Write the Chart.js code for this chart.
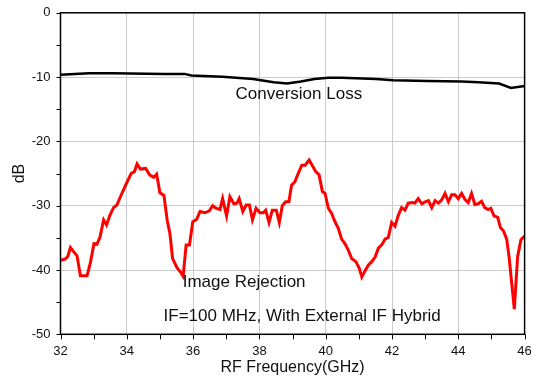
<!DOCTYPE html>
<html>
<head>
<meta charset="utf-8">
<script src="https://cdn.jsdelivr.net/npm/chart.js@4/dist/chart.umd.min.js"></script>
<style>
  body { margin: 0; background: #fff; }
</style>
</head>
<body>
<canvas id="myChart" width="536" height="379"></canvas>
<script>
// RF frequency (GHz) and dB values
var irFreq = [32.00, 32.14, 32.22, 32.30, 32.39, 32.50, 32.60, 32.80, 32.90, 33.01, 33.10, 33.19, 33.30, 33.39, 33.49, 33.60, 33.70, 33.85, 34.00, 34.13,
  34.23, 34.31, 34.41, 34.57, 34.69, 34.81, 34.90, 35.00, 35.12, 35.22, 35.30, 35.38, 35.51, 35.63, 35.70, 35.79, 35.89, 35.99, 36.11, 36.21,
  36.36, 36.49, 36.59, 36.69, 36.81, 36.89, 37.01, 37.11, 37.23, 37.32, 37.39, 37.50, 37.60, 37.70, 37.79, 37.90, 38.02, 38.12, 38.19, 38.29,
  38.39, 38.51, 38.60, 38.69, 38.79, 38.89, 38.97, 39.07, 39.17, 39.28, 39.38, 39.50, 39.60, 39.70, 39.80, 39.90, 39.98, 40.08, 40.18, 40.28,
  40.38, 40.48, 40.58, 40.68, 40.78, 40.91, 41.01, 41.09, 41.19, 41.29, 41.39, 41.49, 41.59, 41.69, 41.79, 41.89, 41.99, 42.09, 42.19, 42.29,
  42.39, 42.49, 42.62, 42.69, 42.79, 42.90, 43.00, 43.10, 43.20, 43.30, 43.40, 43.50, 43.60, 43.70, 43.80, 43.90, 44.00, 44.10, 44.20, 44.30,
  44.40, 44.50, 44.60, 44.70, 44.80, 44.90, 44.98, 45.08, 45.19, 45.27, 45.36, 45.46, 45.53, 45.69, 45.79, 45.89, 46.00];
var irDb = [-38.5, -38.3, -37.9, -36.5, -37.1, -37.8, -40.9, -40.9, -38.9, -35.9, -36.0, -34.9, -32.2, -33.0, -31.5, -30.3, -29.9, -28.1, -26.4, -25.0,
  -24.7, -23.5, -24.3, -24.2, -25.2, -25.6, -25.1, -28.0, -28.4, -32.3, -34.3, -38.2, -39.6, -40.4, -41.0, -36.1, -36.1, -32.5, -32.1, -30.9,
  -31.1, -30.8, -30.0, -30.4, -30.6, -28.9, -31.6, -28.6, -29.7, -29.6, -28.9, -30.9, -29.9, -29.9, -32.2, -30.4, -31.1, -31.1, -30.7, -32.6,
  -30.7, -30.7, -32.6, -30.0, -29.4, -29.4, -26.8, -26.3, -25.0, -23.7, -23.7, -22.9, -23.8, -24.7, -25.2, -27.8, -28.1, -30.4, -31.2, -32.5,
  -33.5, -35.2, -35.9, -36.9, -38.2, -38.7, -39.7, -41.1, -40.1, -39.2, -38.7, -38.0, -36.6, -36.1, -35.2, -34.9, -32.6, -33.2, -31.5, -30.3,
  -30.7, -29.6, -29.5, -29.6, -28.9, -29.7, -29.4, -29.2, -30.3, -29.2, -29.6, -29.1, -28.1, -29.4, -28.3, -28.3, -28.9, -28.1, -29.0, -29.5,
  -28.1, -29.8, -29.7, -29.3, -30.3, -30.6, -30.4, -31.6, -31.8, -33.4, -33.9, -35.2, -37.9, -46.1, -37.9, -35.3, -34.7];

var clFreq = [32.0, 32.86, 33.58, 35.13, 35.74, 35.95, 36.88, 37.81, 38.43, 38.84, 39.25, 39.66, 40.08, 40.49, 41.52, 42.04, 43.07, 44.10, 44.61, 45.23, 45.59, 46.0];
var clDb = [-9.64, -9.4, -9.4, -9.5, -9.5, -9.74, -9.95, -10.3, -10.8, -11.0, -10.7, -10.3, -10.1, -10.1, -10.3, -10.5, -10.6, -10.7, -10.8, -11.0, -11.7, -11.4];

var xTicks = [32, 34, 36, 38, 40, 42, 44, 46];
var yTicks = [0, -10, -20, -30, -40, -50];

var notes = [
  { text: "Conversion Loss", x: 39.19, y: -12.6 },
  { text: "Image Rejection", x: 37.54, y: -41.9 },
  { text: "IF=100 MHz, With External IF Hybrid", x: 39.29, y: -47.15 }
];

function pts(xs, ys) {
  var out = [];
  for (var i = 0; i < xs.length; i++) out.push({ x: xs[i], y: ys[i] });
  return out;
}

const FONT = "'Liberation Sans', Arial, sans-serif";

// box, outward minor/major ticks, text notes
const extras = {
  id: "extras",
  afterDraw(chart) {
    const ctx = chart.ctx;
    const a = chart.chartArea;
    const xs = chart.scales.x;
    const ys = chart.scales.y;
    ctx.save();
    ctx.strokeStyle = "#000";
    ctx.lineWidth = 1.5;
    ctx.strokeRect(a.left, a.top, a.right - a.left, a.bottom - a.top);
    ctx.lineWidth = 1;
    ctx.beginPath();
    for (var g = 32; g <= 46; g++) {
      var px = Math.round(xs.getPixelForValue(g)) + 0.5;
      ctx.moveTo(px, a.bottom);
      ctx.lineTo(px, a.bottom + 5);
    }
    for (var d = 0; d >= -50; d -= 5) {
      var py = Math.round(ys.getPixelForValue(d)) + 0.5;
      ctx.moveTo(a.left, py);
      ctx.lineTo(a.left - 4, py);
    }
    ctx.stroke();
    ctx.fillStyle = "#111";
    ctx.font = "17px " + FONT;
    ctx.textAlign = "center";
    ctx.textBaseline = "middle";
    notes.forEach(function (n) {
      ctx.fillText(n.text, xs.getPixelForValue(n.x), ys.getPixelForValue(n.y));
    });
    ctx.restore();
  }
};

new Chart("myChart", {
  type: "line",
  data: {
    datasets: [{
      label: "Conversion Loss",
      data: pts(clFreq, clDb),
      borderColor: "#000",
      borderWidth: 2.5,
      pointRadius: 0,
      tension: 0
    }, {
      label: "Image Rejection",
      data: pts(irFreq, irDb),
      borderColor: "#ff0000",
      borderWidth: 3,
      pointRadius: 0,
      tension: 0
    }]
  },
  options: {
    responsive: false,
    animation: false,
    layout: { padding: { left: 0, right: 11.4, top: 12.8, bottom: 0 } },
    plugins: { legend: { display: false }, tooltip: { enabled: false } },
    scales: {
      x: {
        type: "linear",
        min: 32, max: 46,
        afterBuildTicks: function (s) { s.ticks = xTicks.map(function (v) { return { value: v }; }); },
        afterFit: function (s) { s.height = 44.7; s.paddingLeft = 0; s.paddingRight = 0; },
        grid: { color: "#cccccc", lineWidth: 1, drawTicks: false },
        border: { display: false },
        ticks: { color: "#111", font: { family: FONT, size: 13 }, padding: 9, maxRotation: 0 },
        title: { display: true, text: "RF Frequency(GHz)", color: "#111", font: { family: FONT, size: 16 }, padding: { top: 0, bottom: 2 } }
      },
      y: {
        min: -50, max: 0,
        afterBuildTicks: function (s) { s.ticks = yTicks.map(function (v) { return { value: v }; }); },
        afterFit: function (s) { s.width = 60.5; s.paddingTop = 0; s.paddingBottom = 0; },
        grid: { color: "#cccccc", lineWidth: 1, drawTicks: false },
        border: { display: false },
        ticks: { color: "#111", font: { family: FONT, size: 13 }, padding: 10 },
        title: { display: true, text: "dB", color: "#111", font: { family: FONT, size: 16 }, padding: { top: 10, bottom: 0 } }
      }
    }
  },
  plugins: [extras]
});
</script>
</body>
</html>
